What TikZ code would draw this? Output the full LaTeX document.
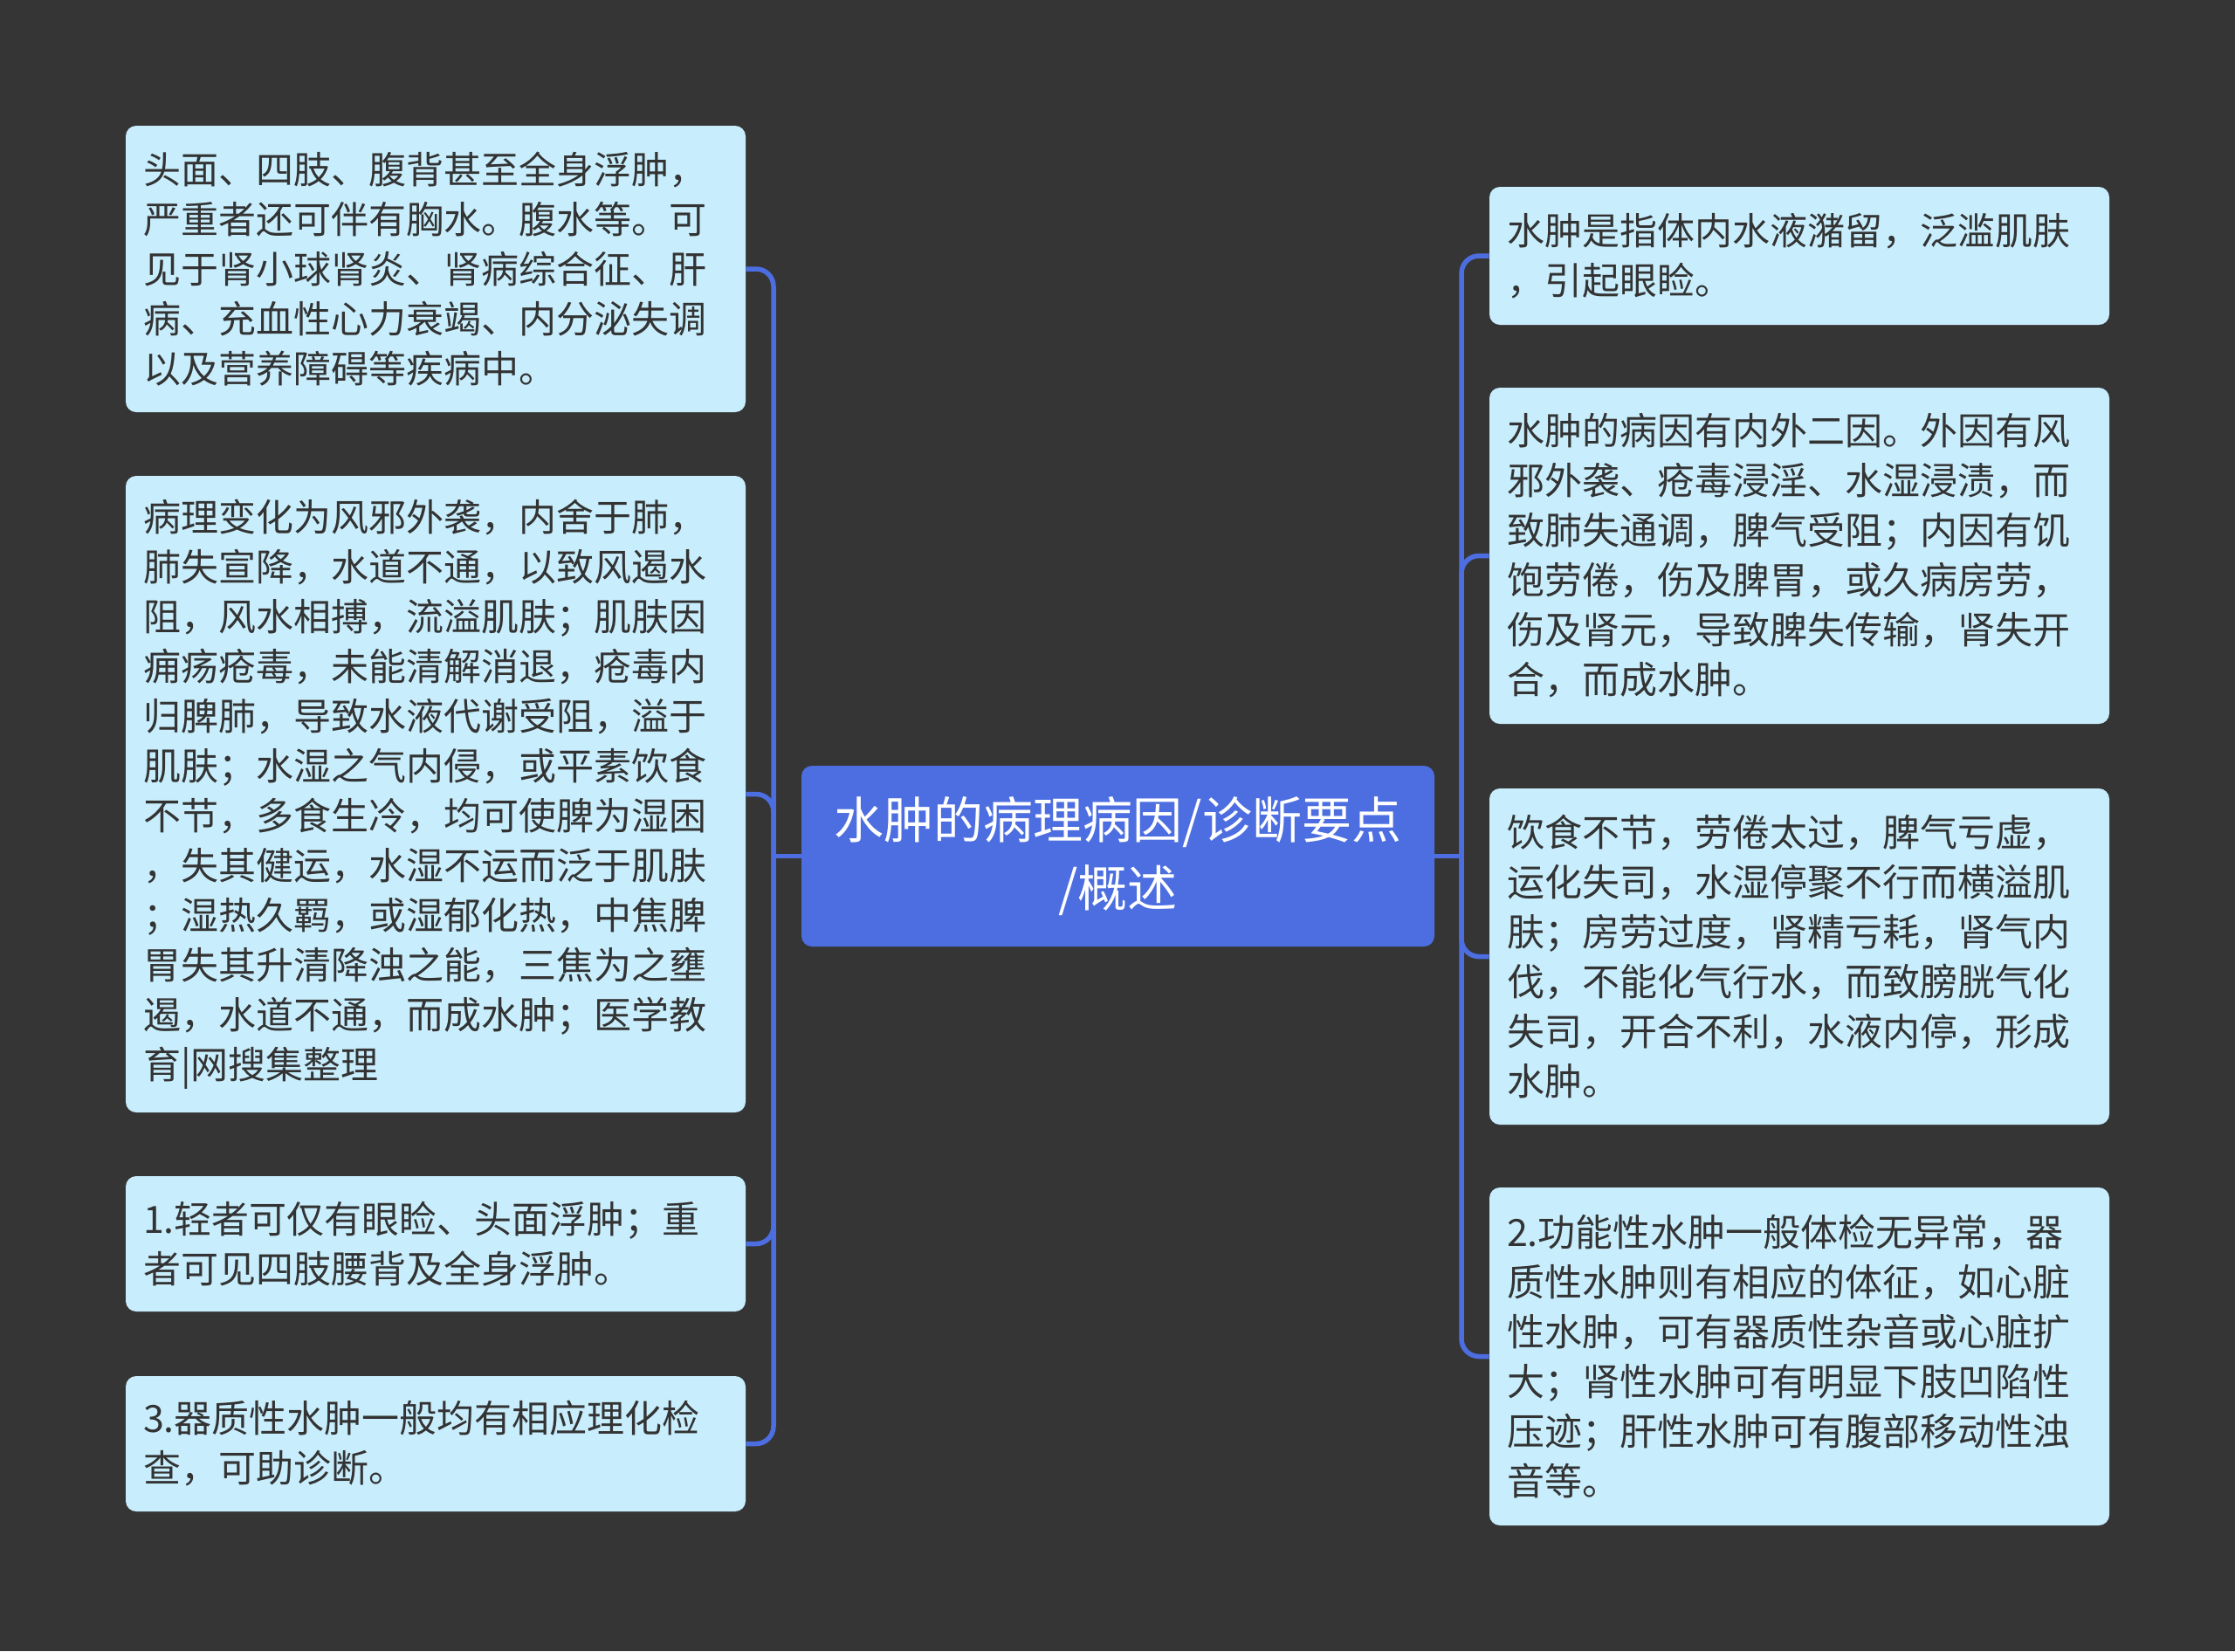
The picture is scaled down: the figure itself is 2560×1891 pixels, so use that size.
\documentclass[tikz,border=0pt]{standalone}
\usepackage{fontspec}
\newfontfamily\cjkfont{Noto Sans CJK SC}

\definecolor{bgdark}{HTML}{363536}
\definecolor{leafblue}{HTML}{C8EEFD}
\definecolor{rootblue}{HTML}{4C6EE0}
\definecolor{inktext}{HTML}{333333}

\tikzset{
  leaf/.style={fill=leafblue, rounded corners=6pt, text=inktext, align=left,
    text width=335pt, inner xsep=10pt, inner ysep=0pt,
    font=\cjkfont\fontsize{21.5}{28.5}\selectfont},
  root/.style={fill=rootblue, rounded corners=6pt, text=white, align=center,
    minimum width=362.5pt, minimum height=103.5pt,
    font=\cjkfont\fontsize{28.5}{39}\selectfont},
  link/.style={draw=rootblue, line width=2.75pt, rounded corners=10pt}
}

\begin{document}
\begin{tikzpicture}[x=0.5pt, y=-0.5pt]
    \fill[bgdark] (0,0) rectangle (2560,1891);

    % Connectors (behind the boxes)
    \coordinate (lj) at (886,980.5);
    \coordinate (rj) at (1674,980.5);

    % Main topic
    \node[root] (root) at (1280.5,980.5) {水肿的病理病因/诊断要点\\/概述};

    % Left branches
    \node[leaf, minimum height=164pt] (l1) at (499,308) {头面、四肢、腹背甚至全身浮肿，\\严重者还可伴有胸水。腹水等。可\\见于肾小球肾炎、肾病综合征、肝\\病、充血性心力衰竭、内分泌失调\\以及营养障碍等疾病中。};
    \node[leaf, minimum height=364.5pt] (l2) at (499,909.5) {病理变化为风邪外袭，内舍于肺，\\肺失宣降，水道不通，以致风遏水\\阻，风水相搏，流溢肌肤；肌肤因\\痈疡疮毒，未能清解消退，疮毒内\\归脾肺，导致水液代谢受阻，溢于\\肌肤；水湿之气内侵，或平素饮食\\不节，多食生冷，均可使脾为湿困\\，失其健运，水湿不运而泛于肌肤\\；湿热久羁，或湿郁化热，中焦脾\\胃失其升清降浊之能，三焦为之壅\\遏，水道不通，而成水肿；医学教\\育|网搜集整理};
    \node[leaf, minimum height=77.5pt] (l3) at (499,1424.5) {1.轻者可仅有眼睑、头面浮肿；重\\者可见四肢腰背及全身浮肿。};
    \node[leaf, minimum height=77.5pt] (l4) at (499,1653.5) {3.器质性水肿一般均有相应理化检\\查，可助诊断。};

    % Right branches
    \node[leaf, minimum height=79pt] (r1) at (2061,293) {水肿是指体内水液潴留，泛滥肌肤\\，引起眼睑。};
    \node[leaf, minimum height=192.5pt] (r2) at (2061,636.5) {水肿的病因有内外二因。外因有风\\邪外袭、疮毒浸淫、水湿浸渍，而\\致肺失通调，脾气受阻；内因有饥\\饱劳倦，伤及脾胃，或久病房劳，\\伤及肾元，导致脾失传输，肾失开\\合，而成水肿。};
    \node[leaf, minimum height=192.5pt] (r3) at (2061,1095.5) {饮食不节，劳倦太过，脾气亏虚，\\运化失司，水湿停聚不行而横溢肌\\肤；房劳过度，肾精亏耗，肾气内\\伐，不能化气行水，而致膀胱气化\\失司，开合不利，水液内停，形成\\水肿。};
    \node[leaf, minimum height=193.5pt] (r4) at (2061,1553.5) {2.功能性水肿一般体检无异常，器\\质性水肿则有相应的体征，如心脏\\性水肿，可有器质性杂音或心脏扩\\大；肾性水肿可有明显下肢凹陷性\\压迹；肝性水肿可有腹部移动性浊\\音等。};

    \draw[link] (root.west) -- (lj);
    \draw[link] (root.east) -- (rj);
    \foreach \n in {l1,l2,l3,l4} \draw[link] (lj) |- (\n.east);
    \foreach \n in {r1,r2,r3,r4} \draw[link] (rj) |- (\n.west);
\end{tikzpicture}
\end{document}
